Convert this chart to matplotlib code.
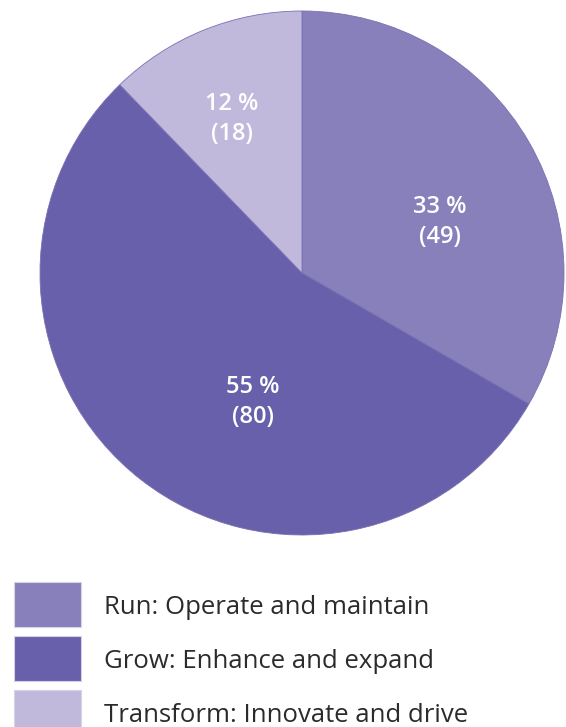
import matplotlib
matplotlib.use("Agg")
import matplotlib.pyplot as plt
from matplotlib.patches import Rectangle

categories = ["Run: Operate and maintain", "Grow: Enhance and expand", "Transform: Innovate and drive"]
counts = [49, 80, 18]
percents = [33, 55, 12]
colors = ["#8880BB", "#6860AA", "#C0B9DC"]

# label centres (pixels from top-left)
label_pos = [(440, 222), (253, 402), (232, 119)]

W, H = 566, 727
fig = plt.figure(figsize=(W / 100, H / 100), dpi=100)
ax = fig.add_axes([0, 0, 1, 1])

cx, cy, r = 302, 273, 262
wedges, _ = ax.pie(counts, colors=colors, startangle=90, counterclock=False,
                   center=(cx, cy), radius=r, frame=True,
                   wedgeprops=dict(edgecolor="#7a70b4", linewidth=0.6))
# pie draws in y-up space; our axis is flipped, so mirror wedges
for w in wedges:
    t1, t2 = w.theta1, w.theta2
    w.set_theta1(-t2)
    w.set_theta2(-t1)
ax.set_xlim(0, W)
ax.set_ylim(H, 0)
ax.set_aspect("equal")
ax.axis("off")

font = "Open Sans"
for (x, y), p, n in zip(label_pos, percents, counts):
    ax.text(x, y, f"{p} %\n({n})", ha="center", va="center", color="white",
            fontsize=17, family=font, weight="semibold", linespacing=1.3)

for i, (cat, c) in enumerate(zip(categories, colors)):
    top = 582 + i * 54
    ax.add_patch(Rectangle((14, top), 67, 45, facecolor=c, edgecolor="#d6d2ea", linewidth=0.8))
    ax.text(104, top + 26, cat, ha="left", va="center", color="#2b2b2b",
            fontsize=18.5, family=font)

fig.savefig("out.png", dpi=100)
